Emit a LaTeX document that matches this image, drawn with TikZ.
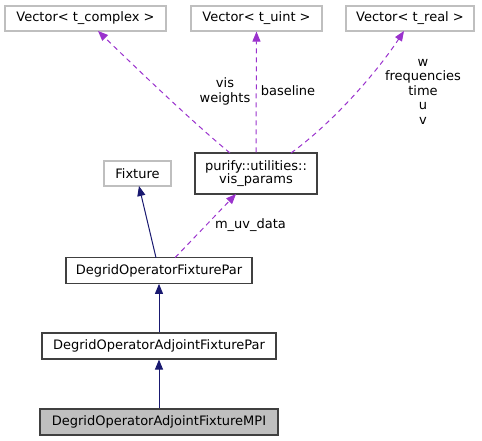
\documentclass[tikz,border=0pt]{standalone}
\usepackage{fontspec}
\setmainfont{DejaVu Sans}
\usetikzlibrary{arrows.meta}
\definecolor{edgepurple}{HTML}{9A32CD}
\definecolor{edgenavy}{HTML}{191970}
\definecolor{boxgray}{HTML}{BFBFBF}
\definecolor{boxdark}{HTML}{404040}
\begin{document}
\begin{tikzpicture}[x=1pt,y=-1pt,
  every node/.style={font=\fontsize{13}{14.5}\selectfont, inner sep=0pt, align=center},
  extbox/.style={draw=boxgray, line width=1.1pt, fill=white},
  clsbox/.style={draw=boxdark, line width=1.1pt, fill=white},
  curbox/.style={draw=boxdark, line width=1.1pt, fill=boxgray},
  uses/.style={draw=edgepurple, line width=1pt, dash pattern=on 5pt off 4pt, -{Triangle[length=10pt,width=8pt,fill=edgepurple]}},
  inherits/.style={draw=edgenavy, line width=1pt, -{Triangle[length=10pt,width=8pt,fill=edgenavy]}},
  lbl/.style={font=\fontsize{13}{14.5}\selectfont}
]
\useasboundingbox (0,0) rectangle (482,441);
\node[extbox, minimum width=161pt, minimum height=25pt] (vc) at (85.5,18.5) {Vector< t\_complex >};
\node[extbox, minimum width=131pt, minimum height=25pt] (vu) at (256.5,18.5) {Vector< t\_uint >};
\node[extbox, minimum width=128pt, minimum height=25pt] (vr) at (410,18.5) {Vector< t\_real >};
\node[clsbox, minimum width=122pt, minimum height=41pt, font=\fontsize{13}{13.3}\selectfont] (vp) at (256,173.5) {purify::utilities::\\vis\_params};
\node[extbox, minimum width=67pt, minimum height=25pt] (fx) at (137.5,173.5) {Fixture};
\node[clsbox, minimum width=186pt, minimum height=25.6pt] (fp) at (159,270.5) {DegridOperatorFixturePar};
\node[clsbox, minimum width=234pt, minimum height=26pt] (ap) at (159,346) {DegridOperatorAdjointFixturePar};
\node[curbox, minimum width=238pt, minimum height=26pt] (mpi) at (159,422) {DegridOperatorAdjointFixtureMPI};

\coordinate (vpA) at (230,153);
\coordinate (vpC) at (291,153);
\coordinate (vcT) at (98,31);
\coordinate (vrT) at (404,31);
\coordinate (fpS) at (175,257.7);
\coordinate (vpB) at (236,194);
\coordinate (fpF) at (156,257.7);
\coordinate (fxB) at (139,186);

\draw[uses] (vpA) .. controls (190,120) and (130,62) .. (vcT);
\draw[uses] (vp.north) -- (vu.south);
\draw[uses] (vpC) .. controls (330,125) and (375,75) .. (vrT);
\draw[uses] (fpS) -- (vpB);
\draw[inherits] (fpF) -- (fxB);
\draw[inherits] (ap.north) -- (fp.south);
\draw[inherits] (mpi.north) -- (ap.south);

\node[lbl] (l1) at (225,91.5) {vis\\weights};
\node[lbl] (l2) at (288,91) {baseline};
\node[lbl] (l3) at (423,91.5) {w\\frequencies\\time\\u\\v};
\node[lbl] (l4) at (250.5,225) {m\_uv\_data};
\end{tikzpicture}
\end{document}
